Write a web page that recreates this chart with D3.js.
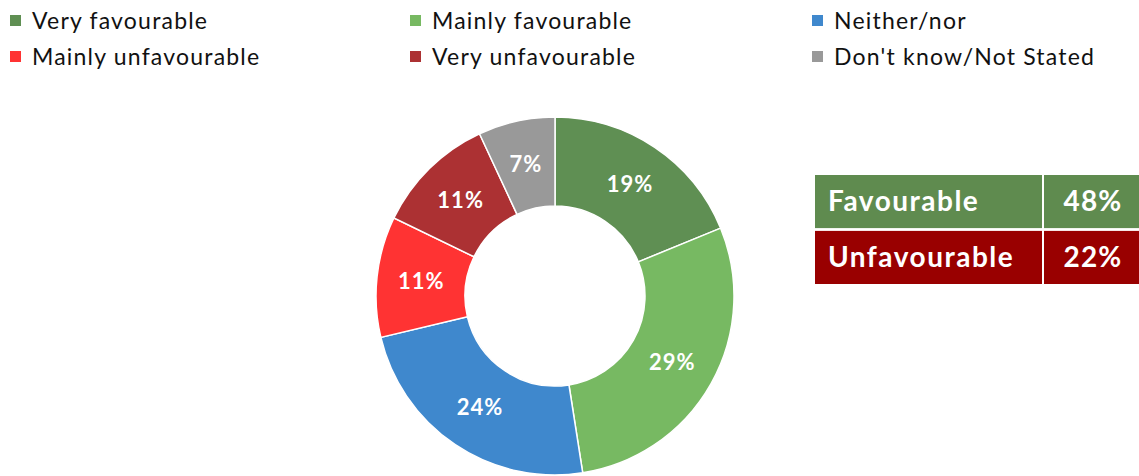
<!DOCTYPE html>
<html><head><meta charset="utf-8">
<script src="https://cdn.jsdelivr.net/npm/d3@7"></script>
<style>html,body{margin:0;padding:0;background:#fff;}svg{display:block;}</style>
</head><body>
<svg id="chart" width="1139" height="476"></svg>
<script>
const categories = ["Very favourable","Mainly favourable","Neither/nor","Mainly unfavourable","Very unfavourable","Don't know/Not Stated"];
const values = [19, 29, 24, 11, 11, 7];
const colors = ["#5F8F53","#77B962","#3F88CD","#FF3333","#AC3133","#999999"];
const summaryLabels = ["Favourable","Unfavourable"];
const summaryValues = [48, 22];
const summaryColors = ["#5F8B4F","#990000"];

const font = "Lato, 'Open Sans', sans-serif";
const svg = d3.select("#chart");

// Legend: 3 columns, 2 rows
const legendX = d3.scaleOrdinal().domain([0,1,2]).range([10, 410, 812]);
const legendY = d3.scaleOrdinal().domain([0,1]).range([21, 57]);
const leg = svg.append("g").selectAll("g").data(categories).join("g")
  .attr("transform", (d,i) => `translate(${legendX(i%3)},${legendY(Math.floor(i/3))})`);
leg.append("rect").attr("x",0).attr("y",-6).attr("width",11).attr("height",11)
  .attr("fill",(d,i)=>colors[i]);
leg.append("text").attr("x",22).attr("y",0).attr("dy","0.35em")
  .attr("font-family",font).attr("font-size",23).attr("letter-spacing",1.2).attr("fill","#111")
  .text(d=>d);

// Donut
const cx = 555, cy = 296, rOuter = 179, rInner = 90;
const pie = d3.pie().sort(null).value(d=>d);
const arc = d3.arc().innerRadius(rInner).outerRadius(rOuter);
const g = svg.append("g").attr("transform",`translate(${cx},${cy})`);
const arcs = pie(values);
g.selectAll("path").data(arcs).join("path")
  .attr("d",arc).attr("fill",(d,i)=>colors[i])
  .attr("stroke","#fff").attr("stroke-width",1.5);
g.selectAll("text").data(arcs).join("text")
  .attr("transform",d=>`translate(${arc.centroid(d)})`)
  .attr("text-anchor","middle").attr("dy","0.35em")
  .attr("font-family",font).attr("font-weight","bold").attr("font-size",22).attr("letter-spacing",1)
  .attr("fill","#fff").text(d=>d.data+"%");

// Summary table
const rowY = d3.scaleBand().domain(summaryLabels).range([175, 284]).paddingInner(0.05);
const tbl = svg.append("g");
const rows = tbl.selectAll("g").data(summaryLabels).join("g")
  .attr("transform",d=>`translate(0,${rowY(d)})`);
rows.append("rect").attr("x",815).attr("y",0).attr("width",227).attr("height",rowY.bandwidth())
  .attr("fill",(d,i)=>summaryColors[i]);
rows.append("rect").attr("x",1044).attr("y",0).attr("width",100).attr("height",rowY.bandwidth())
  .attr("fill",(d,i)=>summaryColors[i]);
rows.append("text").attr("x",828).attr("y",rowY.bandwidth()/2).attr("dy","0.35em")
  .attr("font-family",font).attr("font-weight","bold").attr("font-size",28).attr("letter-spacing",1.5).attr("fill","#fff")
  .text(d=>d);
rows.append("text").attr("x",1093).attr("y",rowY.bandwidth()/2).attr("dy","0.35em")
  .attr("text-anchor","middle")
  .attr("font-family",font).attr("font-weight","bold").attr("font-size",28).attr("letter-spacing",1.2).attr("fill","#fff")
  .text((d,i)=>summaryValues[i]+"%");
</script>
</body></html>
